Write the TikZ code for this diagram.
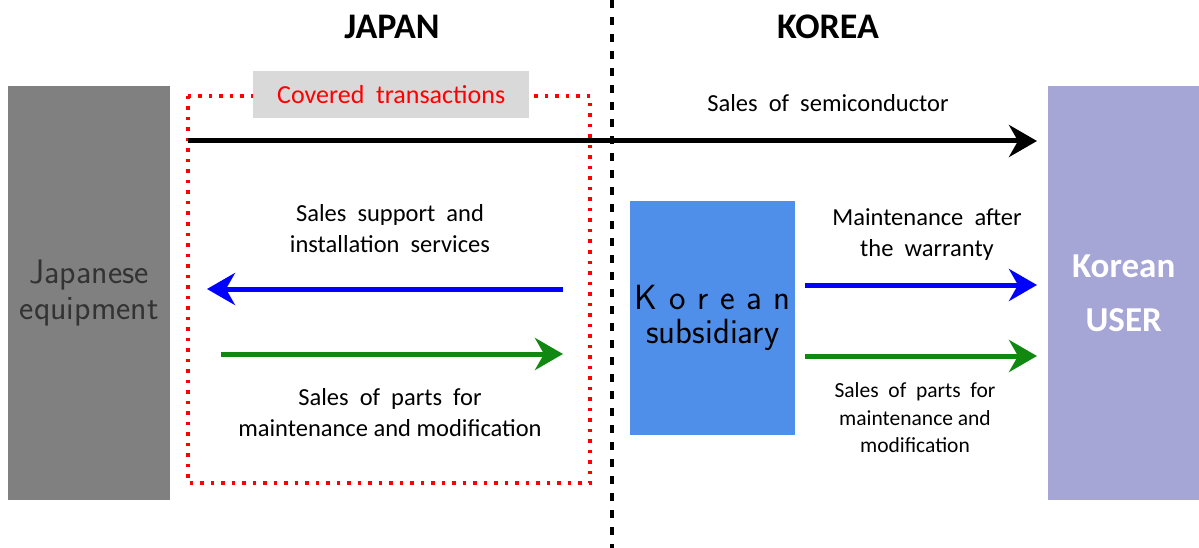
\documentclass[tikz,border=0pt]{standalone}
\usepackage{fontspec}
\setmainfont{Carlito}
\usetikzlibrary{arrows.meta}
\definecolor{jgray}{HTML}{808080}
\definecolor{kblue}{HTML}{4F8FEA}
\definecolor{kuser}{HTML}{A6A6D6}
\definecolor{lgray}{HTML}{D9D9D9}
\definecolor{dgreen}{HTML}{118811}
\begin{document}
\begin{tikzpicture}[x=1pt,y=-1pt,
  box/.style={draw=none,inner sep=0pt,align=center},
  lbl/.style={align=center,inner sep=0pt,font=\fontsize{24.5}{31}\selectfont},
  slbl/.style={align=center,inner sep=0pt,font=\fontsize{21.5}{27.5}\selectfont},
  big/.style={-{Stealth[length=28pt,width=32pt,inset=9pt]},line width=5pt},
  hdr/.style={font=\bfseries\fontsize{36}{40}\selectfont}]
\useasboundingbox (0,0) rectangle (1199,548);
% boxes
\node[box,fill=jgray,minimum width=162pt,minimum height=414pt,anchor=north west,
  text=black!80,font=\sffamily\fontsize{34}{36}\selectfont] (jp) at (8,86) {Japanese\\equipment};
\node[box,fill=kuser,minimum width=151pt,minimum height=414pt,anchor=north west,
  text=white,font=\bfseries\fontsize{35}{54}\selectfont] (ku) at (1048,86) {Korean\\USER};
\node[box,fill=kblue,minimum width=165pt,minimum height=234pt,anchor=north west,
  font=\sffamily\fontsize{35}{36}\selectfont] (ks) at (630,201) {K\,\,o\,\,r\,\,e\,\,a\,\,n\\[-2pt]subsidiary};
% covered area
\draw[red,line width=3.5pt,dash pattern=on 3.5pt off 7pt] (188,96) rectangle (590,483);
\node[box,fill=lgray,minimum width=276pt,minimum height=47pt,anchor=north west,
  text=red,font=\fontsize{26}{28}\selectfont] (cov) at (253,71) {Covered\ \ transactions};
% border
\coordinate (bt) at (612,0);
\coordinate (bb) at (612,548);
\draw[black,line width=4.5pt,dash pattern=on 8pt off 9pt] (bt) -- (bb);
% headers
\node[hdr] (japan) at (392,27) {JAPAN};
\node[hdr] (korea) at (828,27) {KOREA};
% arrows
\coordinate (s1) at (188,141);
\coordinate (e1) at (ku.west |- s1);
\draw[big,black] (s1) -- ([xshift=-11pt]e1);
\node[lbl] (l1) at (828,103) {Sales\ \ of\ \ semiconductor};
\coordinate (b1s) at (563,289);
\coordinate (b1e) at (207,289);
\draw[big,blue] (b1s) -- (b1e);
\node[lbl] (l2) at (390,229) {Sales\ \ support\ \ and\\installation\ \ services};
\coordinate (g1s) at (221,354);
\coordinate (g1e) at (563,354);
\draw[big,dgreen] (g1s) -- (g1e);
\node[lbl] (l3) at (390,413) {Sales\ \ of\ \ parts\ \ for\\maintenance\ and\ modification};
\coordinate (b2e) at (1037,285);
\draw[big,blue] ([xshift=10pt]ks.east |- b2e) -- (b2e);
\node[lbl] (l4) at (927,235) {Maintenance\ \ after\\the\ \ warranty};
\coordinate (g2e) at (1037,356);
\draw[big,dgreen] ([xshift=10pt]ks.east |- g2e) -- (g2e);
\node[slbl] (l5) at (915,418) {Sales\ \ of\ \ parts\ \ for\\maintenance\ and\\modification};
\end{tikzpicture}
\end{document}
